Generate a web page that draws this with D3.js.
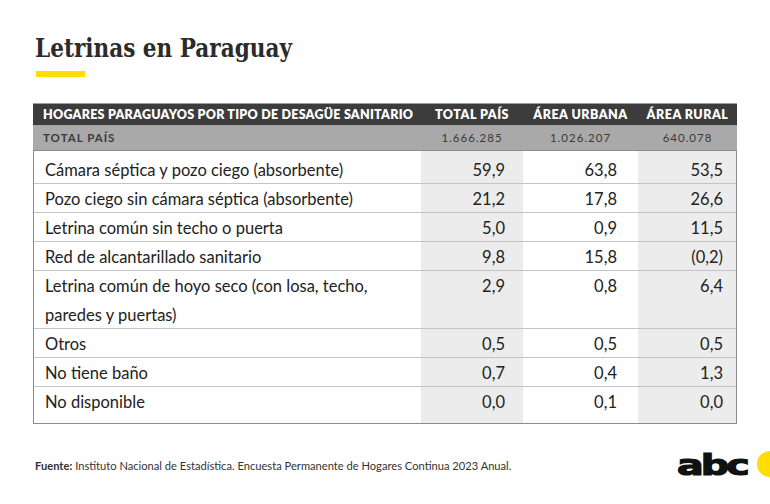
<!DOCTYPE html>
<html><head><meta charset="utf-8">
<script src="https://cdn.jsdelivr.net/npm/d3@7"></script>
<style>body{margin:0;background:#fff}svg{display:block}</style>
</head><body>
<svg id="c" width="770" height="504"></svg>
<script>
// ---- data ----
const title = "Letrinas en Paraguay";
const tableHeader = "HOGARES PARAGUAYOS POR TIPO DE DESAGÜE SANITARIO";
const columns = ["TOTAL PAÍS", "ÁREA URBANA", "ÁREA RURAL"];
const totalLabel = "TOTAL PAÍS";
const totals = [1666285, 1026207, 640078];
const categories = [
  ["Cámara séptica y pozo ciego (absorbente)"],
  ["Pozo ciego sin cámara séptica (absorbente)"],
  ["Letrina común sin techo o puerta"],
  ["Red de alcantarillado sanitario"],
  ["Letrina común de hoyo seco (con losa, techo,", "paredes y puertas)"],
  ["Otros"],
  ["No tiene baño"],
  ["No disponible"]
];
const totalPais = [59.9, 21.2, 5.0, 9.8, 2.9, 0.5, 0.7, 0.0];
const areaUrbana = [63.8, 17.8, 0.9, 15.8, 0.8, 0.5, 0.4, 0.1];
const areaRural = [53.5, 26.6, 11.5, 0.2, 6.4, 0.5, 1.3, 0.0];
const ruralParens = [false, false, false, true, false, false, false, false];
const source = "Instituto Nacional de Estadística. Encuesta Permanente de Hogares Continua 2023 Anual.";

// ---- layout ----
const svg = d3.select("#c");
const loc = d3.formatLocale({decimal: ",", thousands: ".", grouping: [3], currency: ["", ""]});
const fmt1 = loc.format(".1f");
const fmtInt = loc.format(",d");

svg.append("text").attr("x", 35).attr("y", 57)
  .attr("font-family", "'DejaVu Serif Condensed','DejaVu Serif',serif")
  .attr("font-weight", "bold").attr("font-size", 26.5).attr("fill", "#2b2b2b")
  .attr("textLength", 257).attr("lengthAdjust", "spacingAndGlyphs")
  .text(title);
svg.append("rect").attr("x", 36).attr("y", 71).attr("width", 49).attr("height", 6).attr("fill", "#FFDD00");

const left = 33, right = 737;
const colWidths = [388, 102, 115, 99];
const edges = [left];
colWidths.forEach(w => edges.push(edges[edges.length - 1] + w));
const colScale = d3.scaleOrdinal().domain(["label", ...columns]).range(edges.slice(0, 4));
const colW = d3.scaleOrdinal().domain(["label", ...columns]).range(colWidths);

// header rows
const h1Top = 103.5, h1H = 22, h2H = 24.5;
svg.append("rect").attr("x", left).attr("y", h1Top).attr("width", right - left).attr("height", h1H).attr("fill", "#3c3c3c");
svg.append("rect").attr("x", left).attr("y", h1Top + h1H).attr("width", right - left).attr("height", h2H).attr("fill", "#a9a9a9");

const hdrFont = "Lato, 'Open Sans', sans-serif";
svg.append("text").attr("x", 43).attr("y", 119).attr("font-family", hdrFont)
  .attr("font-weight", 800).attr("font-size", 12.5).attr("fill", "#fff")
  .attr("textLength", 370).attr("lengthAdjust", "spacing").text(tableHeader);
svg.selectAll("text.colh").data(columns).join("text").attr("class", "colh")
  .attr("x", d => colScale(d) + colW(d) / 2).attr("y", 119).attr("text-anchor", "middle")
  .attr("font-family", hdrFont).attr("font-weight", 800).attr("font-size", 12.5).attr("fill", "#fff")
  .attr("letter-spacing", 0.5).text(d => d);

svg.append("text").attr("x", 43).attr("y", 142).attr("font-family", hdrFont)
  .attr("font-weight", 700).attr("font-size", 11.5).attr("fill", "#3a3a3a")
  .attr("letter-spacing", 1).text(totalLabel);
svg.selectAll("text.tot").data(totals).join("text").attr("class", "tot")
  .attr("x", (d, i) => colScale(columns[i]) + colW(columns[i]) / 2).attr("y", 142).attr("text-anchor", "middle")
  .attr("font-family", hdrFont).attr("font-weight", 400).attr("font-size", 11.5).attr("fill", "#3a3a3a")
  .attr("letter-spacing", 1).text(d => fmtInt(d));

// body
const bodyTop = 150.5, bodyBottom = 423.5;
const units = categories.map(c => c.length);
const cum = [0];
units.forEach(u => cum.push(cum[cum.length - 1] + u));
const nLines = cum[cum.length - 1];
// baseline of each text line
const y = d3.scaleLinear().domain([0, nLines - 1]).range([176, 408]);

[columns[0], columns[2]].forEach(c => {
  svg.append("rect").attr("x", colScale(c)).attr("y", bodyTop).attr("width", colW(c))
    .attr("height", bodyBottom - bodyTop).attr("fill", "#ececec");
});

svg.selectAll("line.sep").data(cum.slice(1, -1)).join("line").attr("class", "sep")
  .attr("x1", left).attr("x2", right)
  .attr("y1", d => Math.round(y(d - 0.75)) + 0.5).attr("y2", d => Math.round(y(d - 0.75)) + 0.5)
  .attr("stroke", "#c4c4c4").attr("stroke-width", 1);

svg.append("rect").attr("x", left + 0.5).attr("y", bodyTop).attr("width", right - left - 1)
  .attr("height", bodyBottom - bodyTop).attr("fill", "none").attr("stroke", "#8c8c8c").attr("stroke-width", 1);

const bodyFont = "Lato, 'Open Sans', sans-serif";
const rows = svg.selectAll("g.row").data(categories).join("g").attr("class", "row");
rows.each(function(d, i) {
  const g = d3.select(this);
  d.forEach((line, k) => {
    g.append("text").attr("x", 45).attr("y", y(cum[i] + k))
      .attr("font-family", bodyFont).attr("font-size", 16.5).attr("fill", "#222").text(line);
  });
  const vals = [fmt1(totalPais[i]), fmt1(areaUrbana[i]),
    ruralParens[i] ? "(" + fmt1(areaRural[i]) + ")" : fmt1(areaRural[i])];
  const pads = [18, 21, 14];
  vals.forEach((v, k) => {
    g.append("text").attr("x", colScale(columns[k]) + colW(columns[k]) - pads[k]).attr("y", y(cum[i]))
      .attr("text-anchor", "end").attr("font-family", bodyFont).attr("font-size", 16.5).attr("fill", "#222").text(v);
  });
});

// footer
const ft = svg.append("text").attr("x", 35).attr("y", 470).attr("font-family", bodyFont)
  .attr("font-size", 11.15).attr("fill", "#333");
ft.append("tspan").attr("font-weight", 700).text("Fuente:");
ft.append("tspan").text(" " + source);

// logo
svg.append("text").attr("x", 677).attr("y", 475).attr("font-family", "'DejaVu Sans', sans-serif")
  .attr("font-weight", 900).attr("font-size", 28).attr("fill", "#111").attr("stroke", "#111").attr("stroke-width", 1.2)
  .attr("textLength", 70).attr("lengthAdjust", "spacingAndGlyphs").attr("letter-spacing", -2).text("abc");
svg.append("circle").attr("cx", 770).attr("cy", 464).attr("r", 13).attr("fill", "#FFDD00");
</script>
</body></html>
